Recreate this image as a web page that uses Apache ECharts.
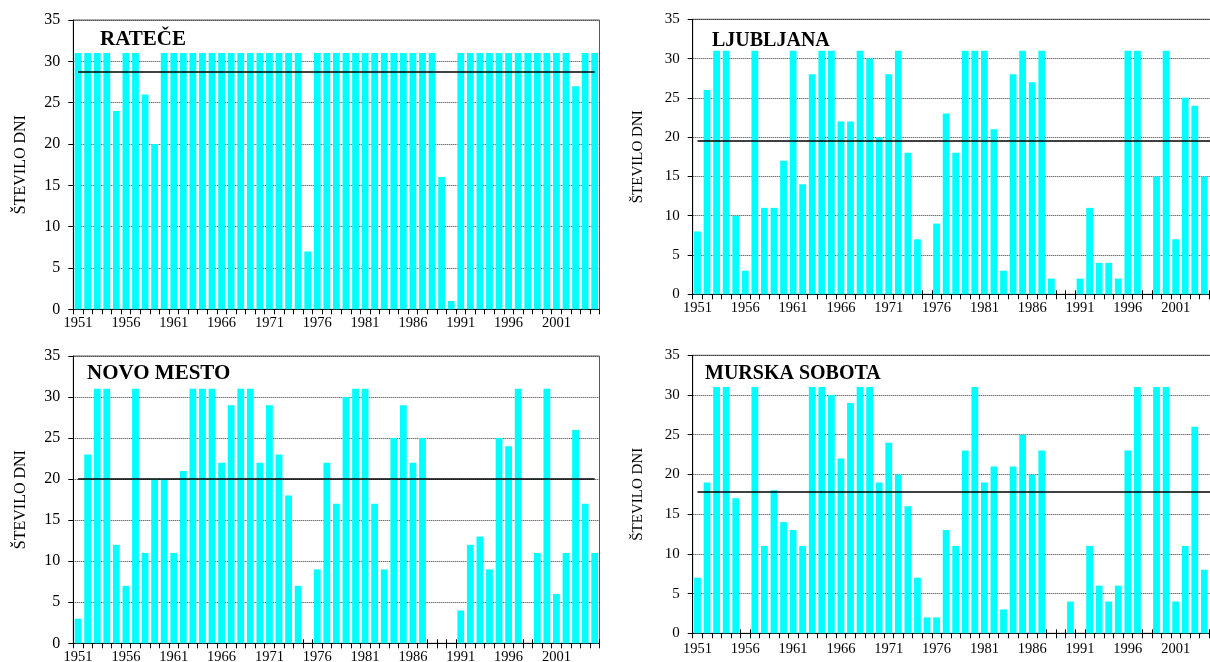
<!DOCTYPE html>
<html>
<head>
<meta charset="utf-8">
<script src="https://cdn.jsdelivr.net/npm/echarts/dist/echarts.min.js"></script>
<style>
  html, body { margin: 0; padding: 0; background: #ffffff; }
  #chart { width: 1210px; height: 662px; }
</style>
</head>
<body>
<div id="chart"></div>
<script>
// Years on the category axis
const years = [
  '1951','1952','1953','1954','1955','1956','1957','1958','1959','1960',
  '1961','1962','1963','1964','1965','1966','1967','1968','1969','1970',
  '1971','1972','1973','1974','1975','1976','1977','1978','1979','1980',
  '1981','1982','1983','1984','1985','1986','1987','1988','1989','1990',
  '1991','1992','1993','1994','1995','1996','1997','1998','1999','2000',
  '2001','2002','2003','2004','2005'
];

// Station names (panel headings)
const stations = ['RATEČE', 'LJUBLJANA', 'NOVO MESTO', 'MURSKA SOBOTA'];

// Number of days per year, 1951–2005
const rateceDays = [
  31,31,31,31,24,31,31,26,20,31,
  31,31,31,31,31,31,31,31,31,31,
  31,31,31,31, 7,31,31,31,31,31,
  31,31,31,31,31,31,31,31,16, 1,
  31,31,31,31,31,31,31,31,31,31,
  31,31,27,31,31
];
const ljubljanaDays = [
   8,26,31,31,10, 3,31,11,11,17,
  31,14,28,31,31,22,22,31,30,20,
  28,31,18, 7, 0, 9,23,18,31,31,
  31,21, 3,28,31,27,31, 2, 0, 0,
   2,11, 4, 4, 2,31,31, 0,15,31,
   7,25,24,15,null
];
const novoMestoDays = [
   3,23,31,31,12, 7,31,11,20,20,
  11,21,31,31,31,22,29,31,31,22,
  29,23,18, 7, 0, 9,22,17,30,31,
  31,17, 9,25,29,22,25, 0, 0, 0,
   4,12,13, 9,25,24,31, 0,11,31,
   6,11,26,17,11
];
const murskaSobotaDays = [
   7,19,31,31,17, 0,31,11,18,14,
  13,11,31,31,30,22,29,31,31,19,
  24,20,16, 7, 2, 2,13,11,23,31,
  19,21, 3,21,25,20,23, 0, 0, 4,
   0,11, 6, 4, 6,23,31, 0,31,31,
   4,11,26, 8,null
];

// Long-term average number of days per station (reference line)
const normals = [28.7, 19.5, 20.1, 17.8];

// Value axis
const yMin = 0, yMax = 35, yStep = 5;
const yAxisTitle = 'ŠTEVILO DNI';

const seriesData = [rateceDays, ljubljanaDays, novoMestoDays, murskaSobotaDays];

// Panel geometry (pixels)
const panels = [
  { left: 73.3,  top: 20,    width: 526.2, height: 289.3, yFont: 16, xFont: 14.5, xMargin: 6,   nameGap: 45, nameSize: 16, titleX: 100, titleY: 40,  titleSize: 21 },
  { left: 692.7, top: 19.3,  width: 526.0, height: 275.0, yFont: 15, xFont: 14.5, xMargin: 6.5, nameGap: 47, nameSize: 15, titleX: 712, titleY: 41,  titleSize: 20 },
  { left: 73.3,  top: 356,   width: 526.2, height: 287.3, yFont: 16, xFont: 14.5, xMargin: 6.7, nameGap: 45, nameSize: 16, titleX: 87,  titleY: 374, titleSize: 21 },
  { left: 692.7, top: 355.3, width: 526.0, height: 278.0, yFont: 15, xFont: 14.5, xMargin: 8,   nameGap: 47, nameSize: 15, titleX: 705, titleY: 374, titleSize: 20 }
];

const serif = '"Liberation Serif", "Times New Roman", serif';

const isEmpty = v => v === null || v === undefined || v === 0;

// Main category axes (labels + downward ticks)
const mainX = panels.map((p, i) => ({
  type: 'category',
  gridIndex: i,
  data: years,
  boundaryGap: true,
  axisLine: { show: true, lineStyle: { color: '#000', width: 1 } },
  axisTick: { show: true, interval: 0, length: 5, lineStyle: { color: '#000', width: 1 } },
  axisLabel: {
    interval: 4, margin: p.xMargin, color: '#000',
    fontFamily: serif, fontSize: p.xFont
  },
  splitLine: { show: false }
}));

// Companion axes: upward half of the cross ticks, visible next to empty years
const tickX = panels.map((p, i) => ({
  type: 'category',
  gridIndex: i,
  data: years,
  boundaryGap: true,
  position: 'bottom',
  axisLine: { show: false },
  axisLabel: { show: false },
  splitLine: { show: false },
  axisTick: {
    show: true, inside: true, length: 4,
    lineStyle: { color: '#000', width: 1 },
    interval: idx => {
      const d = seriesData[i];
      return isEmpty(d[idx]) || (idx > 0 && isEmpty(d[idx - 1]));
    }
  }
}));

const option = {
  animation: false,
  backgroundColor: '#ffffff',
  grid: panels.map(p => ({
    left: p.left, top: p.top, width: p.width, height: p.height,
    containLabel: false,
    outerBoundsMode: 'none',
    show: true,
    backgroundColor: 'transparent',
    borderColor: '#5a5a5a',
    borderWidth: 1
  })),
  xAxis: mainX.concat(tickX),
  yAxis: panels.map((p, i) => ({
    type: 'value',
    gridIndex: i,
    min: yMin, max: yMax, interval: yStep,
    name: yAxisTitle,
    nameLocation: 'middle',
    nameRotate: 90,
    nameGap: p.nameGap,
    nameTextStyle: { fontFamily: serif, fontSize: p.nameSize, color: '#000' },
    axisLine: { show: true, lineStyle: { color: '#000', width: 1 } },
    axisTick: { show: true, length: 5, lineStyle: { color: '#000', width: 1 } },
    axisLabel: { margin: 13, color: '#000', fontFamily: serif, fontSize: p.yFont },
    splitLine: { show: true, lineStyle: { color: '#333', width: 1, type: [1, 1] } }
  })),
  series: seriesData.map((d, i) => ({
    type: 'bar',
    xAxisIndex: i,
    yAxisIndex: i,
    data: d,
    barCategoryGap: '29%',
    itemStyle: { color: '#00ffff' },
    markLine: {
      silent: true,
      symbol: 'none',
      label: { show: false },
      lineStyle: { color: '#000', width: 1.5, type: 'solid' },
      data: [[
        { coord: [years[0], normals[i]] },
        { coord: [years[years.length - 1], normals[i]] }
      ]]
    }
  })),
  graphic: panels.map((p, i) => ({
    type: 'text',
    x: p.titleX,
    y: p.titleY,
    z: 10,
    style: {
      text: stations[i],
      fill: '#000',
      fontFamily: serif,
      fontWeight: 'bold',
      fontSize: p.titleSize,
      verticalAlign: 'middle',
      align: 'left'
    }
  }))
};

const chart = echarts.init(document.getElementById('chart'), null, { renderer: 'canvas' });
chart.setOption(option);
</script>
</body>
</html>
